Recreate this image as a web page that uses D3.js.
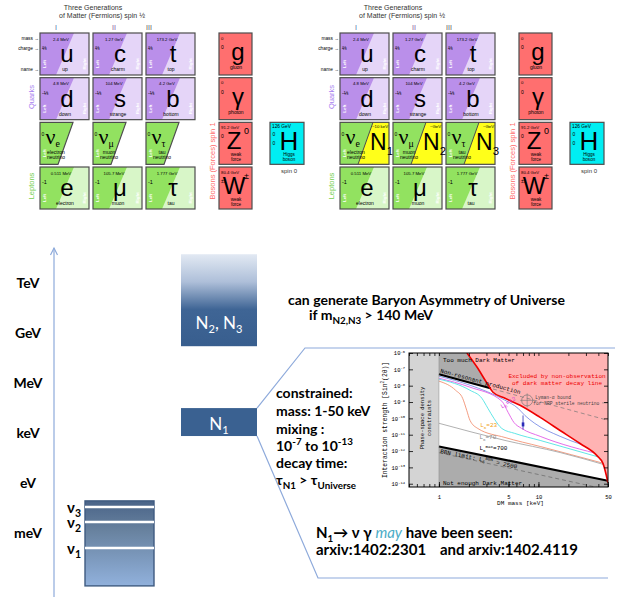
<!DOCTYPE html>
<html>
<head>
<meta charset="utf-8">
<script src="https://cdn.jsdelivr.net/npm/d3@7"></script>
<style>
  body { margin: 0; background: #fff; }
  svg { display: block; }
</style>
</head>
<body>
<script>
// ---------------- data ----------------
// particle tables
const genHeaders = ["I", "II", "III"];
const quarkRows = [
  [{ s: "u", n: "up", m: "2.4 MeV", q: "⅔" }, { s: "c", n: "charm", m: "1.27 GeV", q: "⅔" }, { s: "t", n: "top", m: "173.2 GeV", q: "⅔" }],
  [{ s: "d", n: "down", m: "4.8 MeV", q: "-⅓" }, { s: "s", n: "strange", m: "104 MeV", q: "-⅓" }, { s: "b", n: "bottom", m: "4.2 GeV", q: "-⅓" }]
];
const neutrinos = [
  { sub: "e", n: ["electron", "neutrino"] },
  { sub: "μ", n: ["muon", "neutrino"] },
  { sub: "τ", n: ["tau", "neutrino"] }
];
const leptons = [
  { s: "e", n: "electron", m: "0.511 MeV", q: "-1" },
  { s: "μ", n: "muon", m: "105.7 MeV", q: "-1" },
  { s: "τ", n: "tau", m: "1.777 GeV", q: "-1" }
];
const heavyN = [{ sub: "1", m: "~10 keV" }, { sub: "2", m: "~GeV" }, { sub: "3", m: "~GeV" }];
const bosons = [
  { s: "g", sup: "", n: ["gluon"], m: "0", q: "0" },
  { s: "γ", sup: "", n: ["photon"], m: "0", q: "0" },
  { s: "Z", sup: "0", n: ["weak", "force"], m: "91.2 GeV", q: "0" },
  { s: "W", sup: "±", n: ["weak", "force"], m: "80.4 GeV", q: "±1" }
];
const higgs = { s: "H", n: ["Higgs", "boson"], m: "126 GeV", q: "0", spin: "spin 0" };

// energy scale (log10 of E in eV)
const energyLabels = ["TeV", "GeV", "MeV", "keV", "eV", "meV"];
const energyExp = [12, 9, 6, 3, 0, -3];
const axisSpan = [-6.88, 14.1];
const n23Span = [8.2, 13.73];
const n1Span = [2.8, 4.48];
const lightNuSpan = [-6.21, -1.1];
const lightNuLevels = [{ id: "3", e: -1.47 }, { id: "2", e: -2.37 }, { id: "1", e: -3.93 }];

// inset plot: x = DM mass [keV], y = log10 sin^2(2θ)
const massTicks = [1, 5, 10, 50];
const strengthExp = [-6, -7, -8, -9, -10, -11, -12, -13, -14];
const nrpLine = [[1, -7.3], [50, -10.12]];
const nrpSolidTo = 3.3;
const bbnLine = [[1, -11.72], [50, -13.82]];
const bbnDashed = [[1, -12.1], [50, -14.37]];
const decayBound = [[1.91, -6.0], [2.41, -6.86], [3.04, -7.85], [3.49, -8.4], [4.61, -8.77], [6.53, -9.2],
  [10.4, -9.94], [16.5, -10.74], [26.2, -11.54], [38.7, -12.28], [44.6, -12.77], [50, -13.94]];
const l6Curves = [
  { color: "#7d8fe6", pts: [[1, -7.42], [2.05, -7.97], [4.61, -8.89], [6.22, -9.38], [7.3, -9.82], [9.2, -10.31], [16.5, -11.1], [45, -12.0]] },
  { color: "#e25ee6", pts: [[1, -7.54], [2.05, -8.09], [4.29, -8.95], [4.95, -9.63], [5.67, -10.25], [6.8, -10.62], [10.4, -11.1], [45, -12.25]] },
  { color: "#4fe3e3", pts: [[1, -7.6], [2.05, -8.28], [2.7, -8.77], [3.1, -9.38], [3.57, -10.0], [4.29, -10.62], [5.78, -10.92], [10.4, -11.35], [45, -12.45]] },
  { color: "#f29274", pts: [[1, -7.72], [1.47, -8.28], [1.73, -8.77], [1.9, -9.5], [2.05, -10.12], [2.46, -10.62], [4.61, -11.17], [10.4, -11.72], [45, -12.75]] },
  { color: "#a8a8a8", pts: [[1, -10.3], [4.61, -11.35], [16.5, -12.09], [50, -12.9]] }
];
const lymanPoint = [7.7, -8.9];
const signalBar = { m: 7.0, lo: -10.68, hi: -9.82, mid: -10.37 };

// ---------------- setup ----------------
const W = 617, H = 599;
const svg = d3.select("body").append("svg").attr("width", W).attr("height", H);
svg.append("rect").attr("width", W).attr("height", H).attr("fill", "#fff");
const defs = svg.append("defs");

const SANS = "'Liberation Sans', Arial, sans-serif";
const SERIF = "'Liberation Serif', 'DejaVu Serif', serif";
const SLIDE = "Lato, 'Open Sans', sans-serif";
const MONO = "'Liberation Mono', 'DejaVu Sans Mono', monospace";

function label(g, x, y, str, size, o = {}) {
  return g.append("text").attr("x", x).attr("y", y)
    .attr("font-size", size)
    .attr("font-family", o.family || SANS)
    .attr("font-weight", o.weight || "normal")
    .attr("font-style", o.style || null)
    .attr("text-anchor", o.anchor || "start")
    .attr("fill", o.fill || "#000")
    .text(str);
}
function vlabel(g, x, y, str, size, o = {}) {
  return label(g, 0, 0, str, size, Object.assign({ anchor: "middle" }, o))
    .attr("transform", `translate(${x},${y}) rotate(-90)`);
}
// text with sub / sup parts
function rich(g, x, y, parts, size, o = {}) {
  const t = label(g, x, y, "", size, o);
  let shift = 0;
  parts.forEach(p => {
    const target = p.sup ? -size * 0.4 : p.sub ? size * (p.drop || 0.25) : 0;
    t.append("tspan").attr("dy", target - shift)
      .attr("font-size", (p.sup || p.sub) ? size * (p.scale || 0.62) : size)
      .attr("font-style", p.italic ? "italic" : null)
      .attr("font-weight", p.weight || null)
      .attr("font-family", p.family || null)
      .attr("fill", p.fill || null)
      .text(p.t);
    shift = target;
  });
  return t;
}

// ---------------- particle tables ----------------
const colX = d3.scaleBand().domain([0, 1, 2]).range([40, 195]).paddingInner(4 / 53);
const rowY = d3.scaleBand().domain([0, 1, 2, 3]).range([33, 209]).paddingInner(0.06);
const cw = colX.bandwidth(), ch = rowY.bandwidth();
const bosonX = 219, bosonW = 33, higgsX = 270, higgsW = 34;
const headerX = [56, 114, 149];
const headerFill = ["#4a6fa5", "#7a4f9a", "#555"];

const purpleDark = "#ba8fea", purpleLight = "#e5d5f8";
const greenDark = "#92e260", greenLight = "#d8f6c8";
const bosonRed = "#ff6f6f", higgsCyan = "#00eef2", nYellow = "#ffff1a";
const cellStroke = "#4d4d4d";

function handLabels(g, x, y) {
  vlabel(g, x + 5.5, y + 31, "Left", 4.4, { fill: "#fff", weight: "bold" });
  vlabel(g, x + 45.5, y + 31, "Right", 4.4, { fill: "#fff", weight: "bold" });
}

function fermionCell(g, x, y, d, dark, light) {
  g.append("rect").attr("x", x).attr("y", y).attr("width", cw).attr("height", ch).attr("fill", light);
  g.append("path").attr("d", `M${x},${y}H${x + 34}L${x + 16},${y + ch}H${x}Z`).attr("fill", dark);
  g.append("rect").attr("x", x).attr("y", y).attr("width", cw).attr("height", ch)
    .attr("fill", "none").attr("stroke", cellStroke).attr("stroke-width", 1.2);
  handLabels(g, x, y);
  label(g, x + 21, y + 7.5, d.m, 4.3, { anchor: "middle" });
  label(g, x + 2, y + 17, d.q, 5.5);
  label(g, x + 27, y + 29, d.s, 24, { anchor: "middle" });
  label(g, x + 25, y + 38, d.n, 5, { anchor: "middle" });
}

function neutrinoCell(g, x, y, d, n) {
  const slant = `M${x},${y}H${x + 33}L${x + 18},${y + ch}H${x}Z`;
  if (n) {
    g.append("rect").attr("x", x).attr("y", y).attr("width", cw).attr("height", ch).attr("fill", nYellow);
    g.append("path").attr("d", slant).attr("fill", greenDark);
    g.append("line").attr("x1", x + 33).attr("y1", y).attr("x2", x + 18).attr("y2", y + ch)
      .attr("stroke", cellStroke).attr("stroke-width", 1);
    g.append("rect").attr("x", x).attr("y", y).attr("width", cw).attr("height", ch)
      .attr("fill", "none").attr("stroke", cellStroke).attr("stroke-width", 1.2);
    rich(g, x + 30, y + 28, [{ t: "N" }, { t: n.sub, sub: true, scale: 0.5, drop: 0.2 }], 23);
    label(g, x + 48, y + 6, n.m, 4.3, { anchor: "end" });
  } else {
    g.append("path").attr("d", slant).attr("fill", greenDark)
      .attr("stroke", cellStroke).attr("stroke-width", 1.2);
  }
  vlabel(g, x + 5.5, y + 31, "Left", 4.4, { fill: "#fff", weight: "bold" });
  label(g, x + 1.5, y + 14, "0", 5);
  rich(g, x + 5.5, y + 22, [{ t: "ν" }, { t: d.sub, sub: true, scale: 0.45, drop: 0.1 }], 22, { family: SERIF });
  label(g, x + 16, y + 31.5, d.n[0], 5, { anchor: "middle" });
  label(g, x + 16, y + 36.5, d.n[1], 5, { anchor: "middle" });
}

function bosonCell(g, x, y, d) {
  g.append("rect").attr("x", x).attr("y", y).attr("width", bosonW).attr("height", ch)
    .attr("fill", bosonRed).attr("stroke", cellStroke).attr("stroke-width", 1.2);
  label(g, x + 2, y + 6.5, d.m, 4.3);
  label(g, x + 2, y + 16, d.q, 5);
  label(g, x + (d.sup ? 15 : 19), y + 27, d.s, 24, { anchor: "middle" });
  if (d.sup) label(g, x + 27.5, y + 12, d.sup, 9, { anchor: "middle" });
  if (d.n.length === 1) {
    label(g, x + 17, y + 36, d.n[0], 5, { anchor: "middle" });
  } else {
    label(g, x + 17, y + 34, d.n[0], 4.6, { anchor: "middle" });
    label(g, x + 17, y + 39, d.n[1], 4.6, { anchor: "middle" });
  }
}

function higgsCell(g, x, y, d) {
  g.append("rect").attr("x", x).attr("y", y).attr("width", higgsW).attr("height", ch)
    .attr("fill", higgsCyan).attr("stroke", cellStroke).attr("stroke-width", 1.2);
  label(g, x + 2, y + 6, d.m, 4.8);
  label(g, x + 2.5, y + 14, d.q, 5);
  label(g, x + 2.5, y + 23, d.q, 5);
  label(g, x + 19, y + 28, d.s, 26, { anchor: "middle" });
  label(g, x + 19, y + 33.5, d.n[0], 4.6, { anchor: "middle" });
  label(g, x + 19, y + 38.5, d.n[1], 4.6, { anchor: "middle" });
  label(g, x + 19, y + ch + 9, d.spin, 6, { anchor: "middle", fill: "#333" });
}

function drawTable(ox, sterile) {
  const g = svg.append("g").attr("transform", `translate(${ox},0)`);
  label(g, 93, 9.5, "Three Generations", 7, { anchor: "middle", fill: "#333" });
  label(g, 102, 18, "of Matter (Fermions) spin ½", 7, { anchor: "middle", fill: "#333" });
  genHeaders.forEach((h, i) => label(g, headerX[i], 30, h, 7, { anchor: "middle", fill: headerFill[i] }));
  label(g, 39, 40, "mass →", 4.8, { anchor: "end" });
  label(g, 39, 50, "charge →", 4.8, { anchor: "end" });
  label(g, 39, 71, "name →", 4.8, { anchor: "end" });
  vlabel(g, 34, 97, "Quarks", 7.5, { fill: "#a67ef0" });
  vlabel(g, 34, 186, "Leptons", 7.5, { fill: "#73cf50" });
  vlabel(g, 214.5, 161, "Bosons (Forces) spin 1", 7.5, { fill: "#ff6a6a" });

  quarkRows.forEach((row, r) => row.forEach((d, c) => fermionCell(g, colX(c), rowY(r), d, purpleDark, purpleLight)));
  neutrinos.forEach((d, c) => neutrinoCell(g, colX(c), rowY(2), d, sterile ? heavyN[c] : null));
  leptons.forEach((d, c) => fermionCell(g, colX(c), rowY(3), d, greenDark, greenLight));
  bosons.forEach((d, r) => bosonCell(g, bosonX, rowY(r), d));
  higgsCell(g, higgsX, rowY(2), higgs);
}
drawTable(0, false);
drawTable(300, true);

// ---------------- energy scale ----------------
const ey = d3.scaleLinear().domain([12, -3]).range([283, 532.5]);
const axisBlue = "#8eaadb";
const ax = 54;

svg.append("line").attr("x1", ax).attr("x2", ax)
  .attr("y1", ey(axisSpan[0])).attr("y2", ey(axisSpan[1]))
  .attr("stroke", axisBlue).attr("stroke-width", 1.2);
svg.append("path")
  .attr("d", `M${ax - 3.5},${ey(axisSpan[1]) + 7}L${ax},${ey(axisSpan[1])}L${ax + 3.5},${ey(axisSpan[1]) + 7}`)
  .attr("fill", "none").attr("stroke", axisBlue).attr("stroke-width", 1.2);

energyLabels.forEach((l, i) => label(svg, 28, ey(energyExp[i]) + 5, l, 14, { family: SLIDE, weight: "bold", anchor: "middle" }));

// N2, N3 box
const g23 = defs.append("linearGradient").attr("id", "g23").attr("x1", 0).attr("x2", 0).attr("y1", 0).attr("y2", 1);
[[0, "#e2e9f3"], [0.3, "#aebfd9"], [0.6, "#3f6595"], [1, "#385e8e"]]
  .forEach(s => g23.append("stop").attr("offset", s[0]).attr("stop-color", s[1]));
const boxX = 181, boxW = 76;
svg.append("rect").attr("x", boxX).attr("width", boxW)
  .attr("y", ey(n23Span[1])).attr("height", ey(n23Span[0]) - ey(n23Span[1]))
  .attr("fill", "url(#g23)");
rich(svg, boxX + boxW / 2, ey(n23Span[0]) - 17,
  [{ t: "N" }, { t: "2", sub: true, scale: 0.65 }, { t: ", N" }, { t: "3", sub: true, scale: 0.65 }],
  17, { family: SLIDE, fill: "#fff", anchor: "middle" });

// N1 box
svg.append("rect").attr("x", boxX).attr("width", boxW)
  .attr("y", ey(n1Span[1])).attr("height", ey(n1Span[0]) - ey(n1Span[1]))
  .attr("fill", "#3a6191");
rich(svg, boxX + boxW / 2, ey(n1Span[1]) + 22,
  [{ t: "N" }, { t: "1", sub: true, scale: 0.65 }], 17, { family: SLIDE, fill: "#fff", anchor: "middle" });

// light neutrinos
const gnu = defs.append("linearGradient").attr("id", "gnu").attr("x1", 0).attr("x2", 0).attr("y1", 0).attr("y2", 1);
[[0, "#4a6488"], [0.35, "#68829f"], [1, "#91b1dc"]]
  .forEach(s => gnu.append("stop").attr("offset", s[0]).attr("stop-color", s[1]));
const nuX = 85, nuW = 69;
svg.append("rect").attr("x", nuX).attr("width", nuW)
  .attr("y", ey(lightNuSpan[1])).attr("height", ey(lightNuSpan[0]) - ey(lightNuSpan[1]))
  .attr("fill", "url(#gnu)").attr("stroke", "#3f5b80").attr("stroke-width", 1.4);
lightNuLevels.forEach(d => {
  svg.append("line").attr("x1", nuX).attr("x2", nuX + nuW)
    .attr("y1", ey(d.e)).attr("y2", ey(d.e))
    .attr("stroke", "#fff").attr("stroke-width", 2.4);
  rich(svg, 81, ey(d.e) + 6, [{ t: "ν" }, { t: d.id, sub: true, scale: 0.7 }], 15,
    { family: SLIDE, weight: "bold", anchor: "end" });
});

// connector lines from N1
svg.append("path").attr("d", `M${boxX + boxW},${ey(n1Span[1])}L305,348H615`)
  .attr("fill", "none").attr("stroke", axisBlue).attr("stroke-width", 1.2);
svg.append("path").attr("d", `M${boxX + boxW},${ey(n1Span[0])}L318,578H608`)
  .attr("fill", "none").attr("stroke", axisBlue).attr("stroke-width", 1.2);

// slide texts
label(svg, 288, 305, "can generate Baryon Asymmetry of Universe", 14, { family: SLIDE, weight: "bold" });
rich(svg, 309, 320, [{ t: "if m" }, { t: "N2,N3", sub: true, scale: 0.7 }, { t: " > 140 MeV" }], 14,
  { family: SLIDE, weight: "bold" });

const n1Notes = [
  [{ t: "constrained:" }],
  [{ t: "mass: 1-50 keV" }],
  [{ t: "mixing :" }],
  [{ t: "10" }, { t: "-7", sup: true, scale: 0.7 }, { t: " to 10" }, { t: "-13", sup: true, scale: 0.7 }],
  [{ t: "decay time:" }],
  [{ t: "τ" }, { t: "N1", sub: true, scale: 0.7 }, { t: " > τ" }, { t: "Universe", sub: true, scale: 0.7 }]
];
const noteY = [397.5, 416, 434, 451, 467.5, 485];
n1Notes.forEach((parts, i) => rich(svg, 276, noteY[i], parts, 14, { family: SLIDE, weight: "bold" }));

rich(svg, 316, 538, [
  { t: "N" }, { t: "1", sub: true, scale: 0.65 }, { t: "→ ν γ " },
  { t: "may", italic: true, fill: "#4bacc6", weight: "normal" }, { t: " have been seen:" }
], 15, { family: SLIDE, weight: "bold" });
label(svg, 316, 555, "arxiv:1402:2301", 15, { family: SLIDE, weight: "bold" });
label(svg, 440, 555, "and arxiv:1402.4119", 15, { family: SLIDE, weight: "bold" });

// ---------------- inset plot ----------------
const px = d3.scaleLog().domain([0.5, 50]).range([409, 608]);
const py = d3.scaleLinear().domain([-14.2, -6]).range([487, 353]);
const [pl, pr] = px.range(), [pb, pt] = py.range();
const line = d3.line().x(d => px(d[0])).y(d => py(d[1]));
const curve = d3.line().x(d => px(d[0])).y(d => py(d[1])).curve(d3.curveMonotoneX);
const nrpAt = d3.scaleLog().domain([nrpLine[0][0], nrpLine[1][0]]).range([nrpLine[0][1], nrpLine[1][1]]);

defs.append("clipPath").attr("id", "plotclip").append("rect")
  .attr("x", pl).attr("y", pt).attr("width", pr - pl).attr("height", pb - pt);
const plot = svg.append("g");
const inner = plot.append("g").attr("clip-path", "url(#plotclip)");

inner.append("rect").attr("x", pl).attr("y", pt).attr("width", pr - pl).attr("height", pb - pt).attr("fill", "#fff");
inner.append("rect").attr("x", px(0.5)).attr("width", px(1) - px(0.5)).attr("y", pt).attr("height", pb - pt).attr("fill", "#d4d4d4");
inner.append("path").attr("d", line([[1, -6], ...nrpLine, [50, -6]]) + "Z").attr("fill", "#acacac");
inner.append("path").attr("d", line([...bbnLine, [50, -14.2], [1, -14.2]]) + "Z").attr("fill", "#acacac");

l6Curves.forEach(c => inner.append("path").attr("d", curve(c.pts))
  .attr("fill", "none").attr("stroke", c.color).attr("stroke-width", 0.9));

inner.append("path").attr("d", line([...decayBound, [50, -6]]) + "Z").attr("fill", "#ffb3b3");

inner.append("path").attr("d", line(nrpLine)).attr("fill", "none")
  .attr("stroke", "#777").attr("stroke-width", 0.7).attr("stroke-dasharray", "4,3");
inner.append("path").attr("d", line(bbnDashed)).attr("fill", "none")
  .attr("stroke", "#666").attr("stroke-width", 0.7).attr("stroke-dasharray", "4,3");
inner.append("path").attr("d", line([[1, nrpAt(1)], [nrpSolidTo, nrpAt(nrpSolidTo)]]))
  .attr("fill", "none").attr("stroke", "#000").attr("stroke-width", 2.2);
inner.append("path").attr("d", line(bbnLine)).attr("fill", "none")
  .attr("stroke", "#000").attr("stroke-width", 2.2);
inner.append("line").attr("x1", px(1)).attr("x2", px(1)).attr("y1", pt).attr("y2", pb)
  .attr("stroke", "#888").attr("stroke-width", 0.5);
inner.append("path").attr("d", curve(decayBound)).attr("fill", "none")
  .attr("stroke", "#ee0000").attr("stroke-width", 1.6);

// Lyman-alpha bound
const lx = px(lymanPoint[0]), ly = py(lymanPoint[1]);
inner.append("circle").attr("cx", lx).attr("cy", ly).attr("r", 5.5)
  .attr("fill", "none").attr("stroke", "#777").attr("stroke-width", 0.7);
inner.append("path").attr("d", `M${lx - 7},${ly}H${lx + 7}M${lx},${ly - 7}V${ly + 7}`)
  .attr("stroke", "#777").attr("stroke-width", 0.6);
label(inner, lx + 8, ly - 1.5, "Lyman-α bound", 4.6, { family: MONO, fill: "#444" });
label(inner, lx + 6, ly + 4.5, "for NRP sterile neutrino", 4.6, { family: MONO, fill: "#444" });
inner.append("line").attr("x1", lx + 75).attr("x2", pr).attr("y1", ly + 2.5).attr("y2", ly + 2.5)
  .attr("stroke", "#777").attr("stroke-width", 0.6);

// signal error bar
const sx = px(signalBar.m);
inner.append("line").attr("x1", sx).attr("x2", sx).attr("y1", py(signalBar.hi)).attr("y2", py(signalBar.lo))
  .attr("stroke", "#2a2ab8").attr("stroke-width", 0.8);
inner.append("rect").attr("x", sx - 1.3).attr("y", py(signalBar.mid) - 2).attr("width", 2.6).attr("height", 4)
  .attr("fill", "#2a2ab8");

// plot texts
label(inner, px(1) + 4, py(-6.55), "Too much Dark Matter", 6, { family: MONO });
label(inner, px(1) + 4, pb - 2, "Not enough Dark Matter", 6, { family: MONO });
label(inner, 557, 378, "Excluded by non-observation", 6, { family: MONO, fill: "#e00", anchor: "middle" });
label(inner, 557, 384.5, "of dark matter decay line", 6, { family: MONO, fill: "#e00", anchor: "middle" });
const nrpAngle = Math.atan2(py(nrpLine[1][1]) - py(nrpLine[0][1]), px(50) - px(1)) * 180 / Math.PI;
label(inner, 0, 0, "Non-resonant production", 6, { family: MONO })
  .attr("transform", `translate(${px(1) + 1},${py(nrpAt(1)) - 1.8}) rotate(${nrpAngle})`);
const bbnAngle = Math.atan2(py(bbnLine[1][1]) - py(bbnLine[0][1]), px(50) - px(1)) * 180 / Math.PI;
rich(inner, 0, 0, [{ t: "BBN limit: L" }, { t: "6", sub: true, scale: 0.7 }, { t: "BBN", sup: true, scale: 0.7 }, { t: " = 2500" }], 6,
  { family: MONO }).attr("transform", `translate(${px(1) + 1},${py(bbnLine[0][1]) + 6.5}) rotate(${bbnAngle})`);
vlabel(inner, 424, 418, "Phase-space density", 5.5, { family: MONO });
vlabel(inner, 431, 418, "constraints", 5.5, { family: MONO });
rich(inner, 0, 0, [{ t: "L" }, { t: "6", sub: true, scale: 0.7 }, { t: "=12" }], 6, { family: MONO, fill: "#d838d8" })
  .attr("transform", `translate(${px(4.3)},${py(-9.4)}) rotate(-32)`);
rich(inner, px(2.6), py(-10.55), [{ t: "L" }, { t: "6", sub: true, scale: 0.7 }, { t: "=23" }], 6, { family: MONO, fill: "#f0a010" });
rich(inner, px(2.55), py(-11.27), [{ t: "L" }, { t: "6", sub: true, scale: 0.7 }, { t: "=70" }], 6, { family: MONO, fill: "#888" });
rich(inner, px(2.55), py(-11.95), [{ t: "L" }, { t: "6", sub: true, scale: 0.7 }, { t: "max", sup: true, scale: 0.7 }, { t: "=700" }], 6, { family: MONO });

// frame and axes
plot.append("rect").attr("x", pl).attr("y", pt).attr("width", pr - pl).attr("height", pb - pt)
  .attr("fill", "none").attr("stroke", "#000").attr("stroke-width", 1);

function styleAxis(g) {
  g.select(".domain").remove();
  g.selectAll("line").attr("stroke", "#000").attr("stroke-width", 0.8);
  g.attr("font-family", MONO);
}
const minorX = px.ticks();
plot.append("g").attr("transform", `translate(0,${pb})`)
  .call(d3.axisBottom(px).tickValues(minorX).tickSize(-3).tickFormat(""))
  .call(styleAxis);
plot.append("g").attr("transform", `translate(0,${pt})`)
  .call(d3.axisTop(px).tickValues(minorX).tickSize(-3).tickFormat(""))
  .call(styleAxis);
plot.append("g").attr("transform", `translate(0,${pb})`)
  .call(d3.axisBottom(px).tickValues(massTicks).tickSize(-5).tickPadding(8).tickFormat(d3.format("d")))
  .call(styleAxis)
  .call(g => g.selectAll("text").attr("font-size", 5.5).attr("fill", "#000"));
plot.append("g").attr("transform", `translate(${pl},0)`)
  .call(d3.axisLeft(py).tickValues(strengthExp).tickSize(-4).tickPadding(4))
  .call(styleAxis)
  .call(g => g.selectAll("text").text(null).attr("font-size", 5.5).attr("fill", "#000").each(function (d) {
    const t = d3.select(this);
    t.append("tspan").text("10");
    t.append("tspan").attr("dy", -2.2).attr("font-size", 3.8).text(String(d));
  }));
plot.append("g").attr("transform", `translate(${pr},0)`)
  .call(d3.axisRight(py).tickValues(strengthExp).tickSize(-4).tickFormat(""))
  .call(styleAxis);

label(plot, (pl + pr) / 2 + 12, pb + 18, "DM mass [keV]", 6, { family: MONO, anchor: "middle" });
rich(plot, 0, 0, [{ t: "Interaction strength [Sin" }, { t: "2", sup: true, scale: 0.7 }, { t: "(2θ)]" }], 6.3,
  { family: MONO, anchor: "middle" }).attr("transform", `translate(387,${(pt + pb) / 2}) rotate(-90)`);
</script>
</body>
</html>
